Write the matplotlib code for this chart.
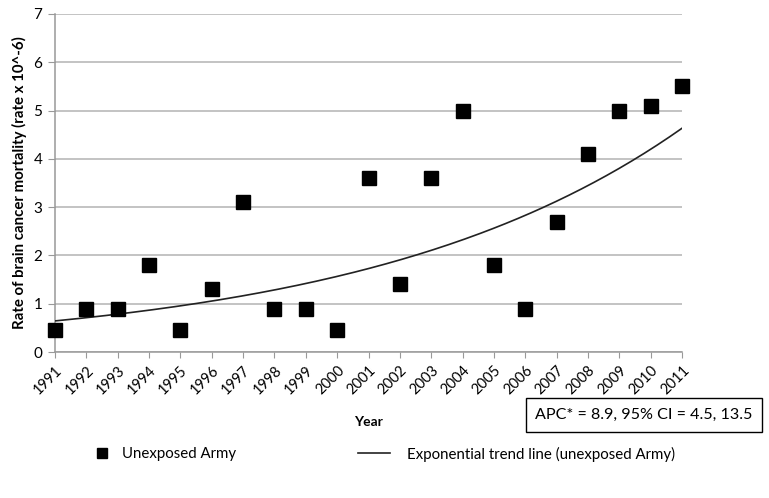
import matplotlib
matplotlib.use("Agg")
import matplotlib.pyplot as plt
import numpy as np
from matplotlib.lines import Line2D

years = [1991, 1992, 1993, 1994, 1995, 1996, 1997, 1998, 1999, 2000, 2001,
         2002, 2003, 2004, 2005, 2006, 2007, 2008, 2009, 2010, 2011]
rates = [0.45, 0.9, 0.9, 1.8, 0.45, 1.3, 3.1, 0.9, 0.9, 0.45, 3.6,
         1.4, 3.6, 5.0, 1.8, 0.9, 2.7, 4.1, 5.0, 5.1, 5.5]
yticks = [0, 1, 2, 3, 4, 5, 6, 7]
apc_text = "APC* = 8.9, 95% CI = 4.5, 13.5"

plt.rcParams['font.family'] = ['Lato', 'DejaVu Sans']

fig = plt.figure(figsize=(7.69, 4.98), dpi=100)
ax = fig.add_axes([0.0715, 0.293, 0.8155, 0.679])

x = np.arange(len(years))
# exponential trend fit (least squares on log values, as in spreadsheet trend lines)
b, a = np.polyfit(x, np.log(rates), 1)
xs = np.linspace(0, len(years) - 1, 200)
ax.plot(xs, np.exp(a + b * xs), color='#222222', lw=1.2, zorder=3)
ax.plot(x, rates, 's', color='black', markersize=9.5, zorder=4, clip_on=False)

ax.set_xlim(0, len(years) - 1)
ax.set_ylim(0, 7)
ax.set_yticks(yticks)
ax.set_xticks(x)
ax.set_xticklabels([str(y) for y in years], rotation=45, ha='right',
                   rotation_mode='anchor', fontsize=10.5)
ax.tick_params(axis='y', labelsize=11, length=5, color='#999999', pad=4)
ax.tick_params(axis='x', length=4, color='#999999', pad=4)
ax.grid(axis='y', color='#b3b3b3', lw=1.1)
ax.set_axisbelow(True)
for s in ['top', 'right']:
    ax.spines[s].set_visible(False)
for s in ['left', 'bottom']:
    ax.spines[s].set_color('#999999')
    ax.spines[s].set_linewidth(1.1)

ax.set_ylabel("Rate of brain cancer mortality (rate x 10^-6)", fontsize=10.8,
              fontweight='bold', labelpad=5)
fig.text(0.479, 0.153, "Year", fontsize=10, fontweight='bold', ha='center', va='center')

fig.text(0.8375, 0.1667, apc_text, fontsize=11.6, ha='center', va='center',
         bbox=dict(boxstyle='square,pad=0.6', fc='white', ec='black', lw=1))

leg1 = fig.legend(handles=[Line2D([], [], marker='s', ls='none', color='black', markersize=7)],
                  labels=["Unexposed Army"], loc='center left',
                  bbox_to_anchor=(0.123, 0.088), frameon=False, fontsize=10.8,
                  handlelength=1.0, handletextpad=0.83, borderpad=0, borderaxespad=0)
leg2 = fig.legend(handles=[Line2D([], [], color='#222222', lw=1.2)],
                  labels=["Exponential trend line (unexposed Army)"], loc='center left',
                  bbox_to_anchor=(0.4655, 0.088), frameon=False, fontsize=10.8,
                  handlelength=2.13, handletextpad=1.13, borderpad=0, borderaxespad=0)

fig.savefig("out.png", dpi=100)
